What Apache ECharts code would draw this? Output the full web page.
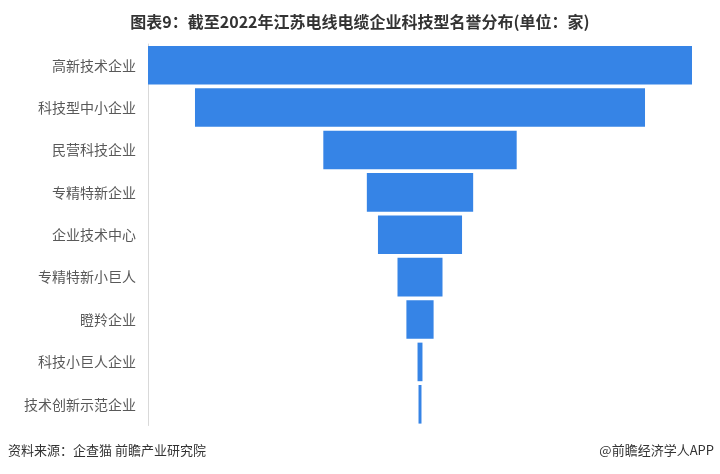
<!DOCTYPE html>
<html>
<head>
<meta charset="utf-8">
<script src="https://cdn.jsdelivr.net/npm/echarts@6/dist/echarts.min.js"></script>
<style>
html,body{margin:0;padding:0;background:#fff;}
#main{width:720px;height:474px;}
</style>
</head>
<body>
<div id="main"></div>
<script>
var categories = ['高新技术企业','科技型中小企业','民营科技企业','专精特新企业','企业技术中心','专精特新小巨人','瞪羚企业','科技小巨人企业','技术创新示范企业'];
var values = [1100, 910, 391, 215, 170, 91, 55, 10, 6];
var titleText = '图表9：截至2022年江苏电线电缆企业科技型名誉分布(单位：家)';
var sourceText = '资料来源：企查猫 前瞻产业研究院';
var brandText = '@前瞻经济学人APP';

var maxVal = Math.max.apply(null, values);
var offsets = values.map(function(v){ return (maxVal - v) / 2; });

var chart = echarts.init(document.getElementById('main'));
chart.setOption({
  animation: false,
  title: {
    text: titleText,
    left: 'center',
    top: 9,
    textStyle: {fontFamily: 'Noto Sans CJK SC', fontSize: 16, fontWeight: 'bold', color: '#333'}
  },
  graphic: [
    {type:'text', left: 8, top: 444, style:{text: sourceText, font:'13px "Noto Sans CJK SC"', fill:'#333'}},
    {type:'text', right: 6, top: 444, style:{text: brandText, font:'13px "Noto Sans CJK SC"', fill:'#333'}}
  ],
  grid: {left: 148, right: 28, top: 44, height: 381.5, containLabel: false},
  xAxis: {type: 'value', min: 0, max: maxVal, show: false},
  yAxis: {
    type: 'category', data: categories, inverse: true,
    axisLine: {show: true, lineStyle: {color: '#d9d9d9', width: 1}},
    axisTick: {show: false},
    axisLabel: {margin: 12, fontSize: 14, color: '#595959', fontFamily: 'Noto Sans CJK SC'}
  },
  series: [
    {type: 'bar', stack: 'f', data: offsets, itemStyle: {color: 'transparent'}, barCategoryGap: '9%', silent: true},
    {type: 'bar', stack: 'f', data: values, itemStyle: {color: '#3684E6'}, barCategoryGap: '9%'}
  ]
});
</script>
</body>
</html>
